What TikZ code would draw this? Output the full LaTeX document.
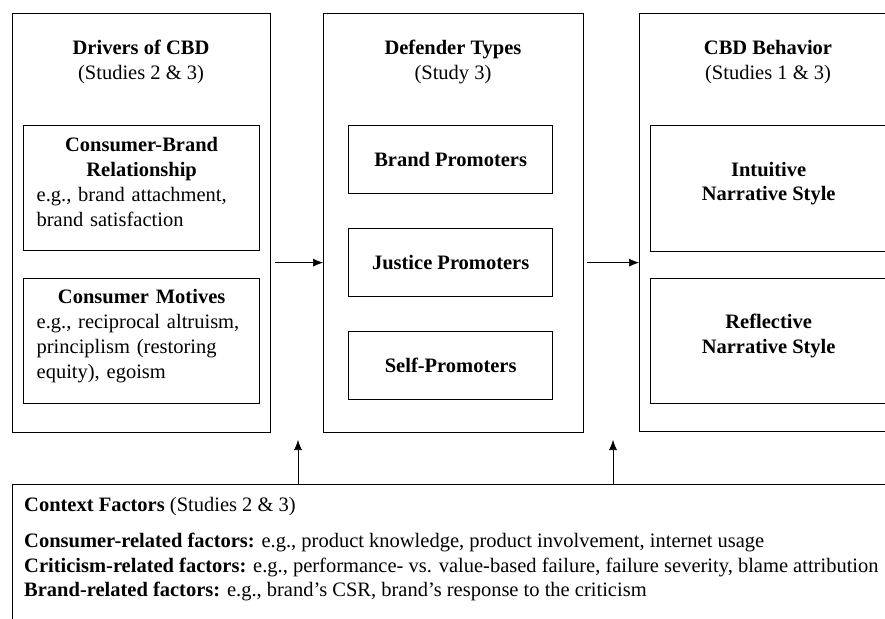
\documentclass[tikz,border=0pt]{standalone}
\usepackage{fontspec}
\setmainfont{Liberation Serif}
\usetikzlibrary{arrows.meta}
\newcommand{\txt}{\fontsize{20.5}{24.8}\selectfont}

\tikzset{
  outerbox/.style={draw, line width=1.3pt, anchor=north west, inner sep=0pt, minimum width=258pt, minimum height=419pt},
  innerbox/.style={draw, line width=1.3pt, anchor=north west, inner sep=0pt, font=\txt, align=center},
  heading/.style={font=\txt, align=center},
  boxtext/.style={font=\txt, inner sep=0pt},
  flow/.style={-{Latex[length=10pt,width=8pt]}, line width=0.6pt},
}

\begin{document}
\begin{tikzpicture}[x=1pt,y=-1pt]
  %%%%% START %%%%%
  \useasboundingbox (0,0) rectangle (885,618);
  \clip (0,0) rectangle (885,618);

  % drivers
  \node[outerbox] (drv) at (12,13) {};
  \node[heading] (drvt) at (141,62) {\textbf{Drivers of CBD}\\(Studies 2 \& 3)};
  \node[innerbox, minimum width=236pt, minimum height=125pt] (cbr) at (23,125) {};
  \node[boxtext, text width=210pt, align=left] (cbrt) at ([yshift=6pt]cbr.center)
    {{\centering\textbf{Consumer-Brand}\\\textbf{Relationship}\par}e.g., brand attachment,\\brand satisfaction};
  \node[innerbox, minimum width=236pt, minimum height=125pt] (mtv) at (23,278) {};
  \node[boxtext, text width=210pt, align=left] (mtvt) at ([yshift=5pt]mtv.center)
    {{\centering\textbf{Consumer Motives}\par}e.g., reciprocal altruism,\\principlism (restoring\\equity), egoism};

  % defender types
  \node[outerbox, minimum width=260pt] (dfd) at (323,13) {};
  \node[heading] (dfdt) at (453,62) {\textbf{Defender Types}\\(Study 3)};
  \node[innerbox, minimum width=204pt, minimum height=68pt] (bp) at (348,125) {\textbf{Brand Promoters}};
  \node[innerbox, minimum width=204pt, minimum height=68pt] (jp) at (348,228) {\textbf{Justice Promoters}};
  \node[innerbox, minimum width=204pt, minimum height=68pt] (sp) at (348,331) {\textbf{Self-Promoters}};

  % behavior
  \node[outerbox, minimum height=418pt] (bhv) at (639,13) {};
  \node[heading] (bhvt) at (768,62) {\textbf{CBD Behavior}\\(Studies 1 \& 3)};
  \node[innerbox, minimum width=236pt, minimum height=126pt] (int) at (650,125) {};
  \node[boxtext, align=center] (intt) at ([yshift=5pt]int.center) {\textbf{Intuitive}\\\textbf{Narrative Style}};
  \node[innerbox, minimum width=236pt, minimum height=125pt] (ref) at (650,278) {};
  \node[boxtext, align=center] (reft) at ([yshift=5pt]ref.center) {\textbf{Reflective}\\\textbf{Narrative Style}};

  % context
  \node[draw, line width=1.3pt, anchor=north west, inner sep=0pt, minimum width=900pt, minimum height=160pt] (ctx) at (12,484) {};
  \node[boxtext, align=left, anchor=north west] (ctxt) at (24,497)
    {\textbf{Context Factors} (Studies 2 \& 3)\\[11pt]
     \textbf{Consumer-related factors:} e.g., product knowledge, product involvement, internet usage\\
     \textbf{Criticism-related factors:} e.g., performance- vs. value-based failure, failure severity, blame attribution\\
     \textbf{Brand-related factors:} e.g., brand’s CSR, brand’s response to the criticism};

  % arrows
  \draw[flow] ([xshift=4pt]drv.east |- jp) -- (dfd.west |- jp);
  \draw[flow] ([xshift=3pt]dfd.east |- jp) -- (bhv.west |- jp);
  \coordinate (up1) at (298,440);
  \coordinate (up2) at (613,440);
  \draw[flow] (ctx.north -| up1) -- (up1);
  \draw[flow] (ctx.north -| up2) -- (up2);
  %%%%% END %%%%%
\end{tikzpicture}
\end{document}
